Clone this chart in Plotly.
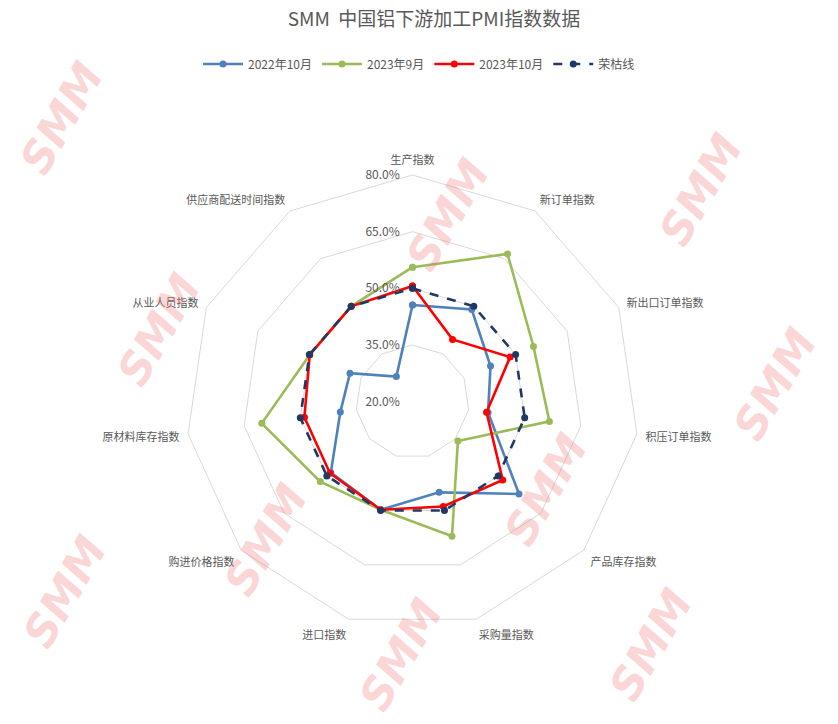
import plotly.graph_objects as go

categories = ["生产指数", "新订单指数", "新出口订单指数", "积压订单指数", "产品库存指数",
              "采购量指数", "进口指数", "购进价格指数", "原材料库存指数", "从业人员指数",
              "供应商配送时间指数"]
series_names = ["2022年10月", "2023年9月", "2023年10月", "荣枯线"]
oct_2022 = [45.6, 49.0, 42.7, 40.2, 57.3, 45.0, 49.8, 48.6, 39.3, 38.2, 27.9]
sep_2023 = [55.6, 66.5, 55.2, 56.6, 35.9, 57.1, 49.8, 52.3, 60.3, 49.9, 50.0]
oct_2023 = [50.6, 39.6, 48.4, 39.8, 51.6, 48.9, 49.8, 48.9, 48.9, 49.9, 50.0]
boom_bust = [50.0, 50.0, 50.0, 50.0, 50.0, 50.0, 50.0, 50.0, 50.0, 50.0, 50.0]
radial_ticks = [20, 35, 50, 65, 80]
radial_tick_text = ["20.0%", "35.0%", "50.0%", "65.0%", "80.0%"]

colors = ["#4F81BD", "#9BBB59", "#FF0000", "#1F3864"]
dashes = ["solid", "solid", "solid", "dash"]
all_series = [oct_2022, sep_2023, oct_2023, boom_bust]

W, H = 838, 724
cx, cy, R = 412.5, 401.7, 226.7

fig = go.Figure()
for name, vals, col, dash in zip(series_names, all_series, colors, dashes):
    fig.add_trace(go.Scatterpolar(
        r=vals + vals[:1], theta=categories + categories[:1],
        mode="lines+markers", name=name,
        line=dict(color=col, width=2.6, dash=dash),
        marker=dict(color=col, size=7, symbol="circle"),
    ))

# watermark-like decorations (kept inside the canvas)
wm = [(62, 118), (447, 215), (700, 190), (775, 385), (158, 330), (265, 540),
      (545, 490), (650, 645), (400, 655), (64, 592)]
annotations = []
for (x, y) in wm:
    annotations.append(dict(
        x=x / W, y=1 - y / H, xref="paper", yref="paper", showarrow=False,
        xanchor="center", yanchor="middle",
        text="<b><i>SMM</i></b>", textangle=-60,
        font=dict(size=44, color="rgba(240,110,110,0.28)", family="Arial Black, DejaVu Sans"),
    ))

fig.update_layout(
    width=W, height=H,
    margin=dict(l=0, r=0, t=0, b=0),
    paper_bgcolor="white",
    font=dict(family="Noto Sans CJK SC, sans-serif", color="#595959", size=12),
    title=dict(text="SMM  中国铝下游加工PMI指数数据", x=434 / W, xanchor="center",
               y=1 - 19 / H, yanchor="middle",
               font=dict(size=19, color="#595959", family="Noto Sans CJK SC, sans-serif")),
    legend=dict(orientation="h", x=0.5, xanchor="center", y=1 - 64 / H, yanchor="middle",
                font=dict(size=12, color="#595959"), itemwidth=40,
                bgcolor="rgba(0,0,0,0)"),
    polar=dict(
        domain=dict(x=[(cx - R) / W, (cx + R) / W], y=[(H - cy - R) / H, (H - cy + R) / H]),
        bgcolor="rgba(0,0,0,0)",
        gridshape="linear",
        radialaxis=dict(range=[20, 80], tickvals=radial_ticks, ticktext=radial_tick_text,
                        showline=False, gridcolor="#D9D9D9",
                        gridwidth=1, angle=90, tickangle=90, side="counterclockwise",
                        ticks="outside", ticklen=8, tickcolor="rgba(0,0,0,0)",
                        tickfont=dict(size=12, color="#595959")),
        angularaxis=dict(direction="clockwise", rotation=90, showgrid=False,
                         showline=True, linecolor="#D9D9D9", linewidth=1,
                         ticks="outside", ticklen=6, tickcolor="rgba(0,0,0,0)",
                         tickfont=dict(size=11, color="#595959")),
    ),
    annotations=annotations,
    showlegend=True,
)

fig.write_html("out.html", config={"displayModeBar": False},
               post_script="document.body.style.margin='0';")
